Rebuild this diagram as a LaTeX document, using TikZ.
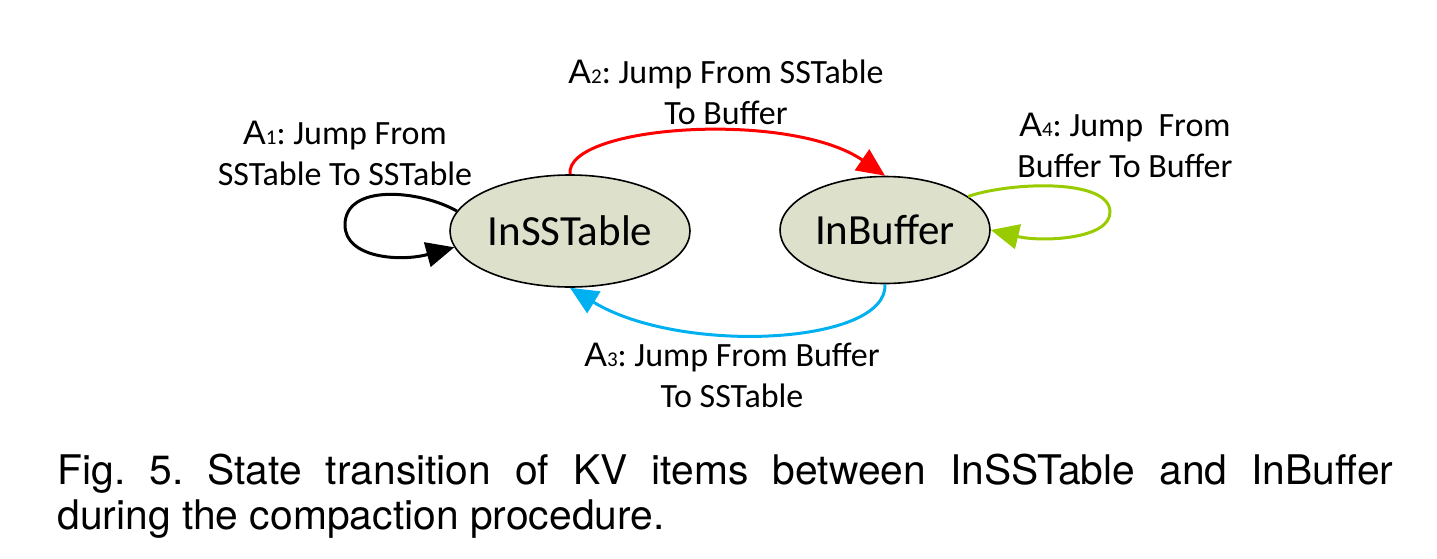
\documentclass[tikz,border=0pt]{standalone}
\usepackage{fontspec}
\setmainfont{Carlito}
\setsansfont{TeX Gyre Heros}
\newfontfamily\arialfont{Liberation Sans}
\usetikzlibrary{arrows.meta, shapes.geometric}
\definecolor{statefill}{RGB}{221,224,203}
\definecolor{jumpred}{RGB}{255,0,0}
\definecolor{jumpblue}{RGB}{0,176,240}
\definecolor{jumpgreen}{RGB}{153,204,0}
\newcommand{\actlbl}[1]{{\arialfont A}{\fontsize{10.5}{10.5}\selectfont #1}}
\frenchspacing

\begin{document}
\begin{tikzpicture}[x=0.5pt, y=-0.5pt,
  state/.style={ellipse, draw, line width=0.8pt, fill=statefill, inner sep=0pt,
    font=\fontsize{21.5}{25}\selectfont},
  jump/.style={line width=1.5pt, -{Triangle[length=14pt,width=12.5pt]}},
  lbl/.style={align=center, inner sep=0pt, font=\fontsize{17}{20.5}\selectfont}]
  \useasboundingbox (0,0) rectangle (1437,558);

  \node[state, minimum width=120pt, minimum height=56pt] (isst) at (570,231) {InSSTable};
  \node[state, minimum width=105pt, minimum height=53.5pt] (ibuf) at (885,230) {InBuffer};

  \draw[jump, black] (isst.170) .. controls (420,190) and (345,183) .. (345,225)
    .. controls (345,258) and (400,262) .. (isst.188);
  \draw[jump, jumpred] (isst.north) .. controls (565,125) and (790,110) .. (ibuf.north);
  \draw[jump, jumpblue] (ibuf.south) .. controls (888,345) and (680,355) .. (isst.south);
  \draw[jump, jumpgreen] (ibuf.22) .. controls (1010,182) and (1110,178) .. (1110,212)
    .. controls (1110,240) and (1040,242) .. (ibuf.east);

  \node[lbl] (a1) at (345,153) {\actlbl{1}: Jump From\\SSTable To SSTable};
  \node[lbl] (a2) at (726,92) {\actlbl{2}: Jump From SSTable\\To Buffer};
  \node[lbl] (a3) at (732,375) {\actlbl{3}: Jump From Buffer\\To SSTable};
  \node[lbl] (a4) at (1125,145) {\actlbl{4}: Jump\ \ From\\Buffer To Buffer};

  \node[anchor=north west, inner sep=0pt, text width=668pt, align=justify,
    font=\sffamily\fontsize{20.4}{22.5}\selectfont] (cap) at (57,454)
    {Fig. 5. State transition of KV items between InSSTable and InBuffer\linebreak during the compaction procedure.};
\end{tikzpicture}
\end{document}
